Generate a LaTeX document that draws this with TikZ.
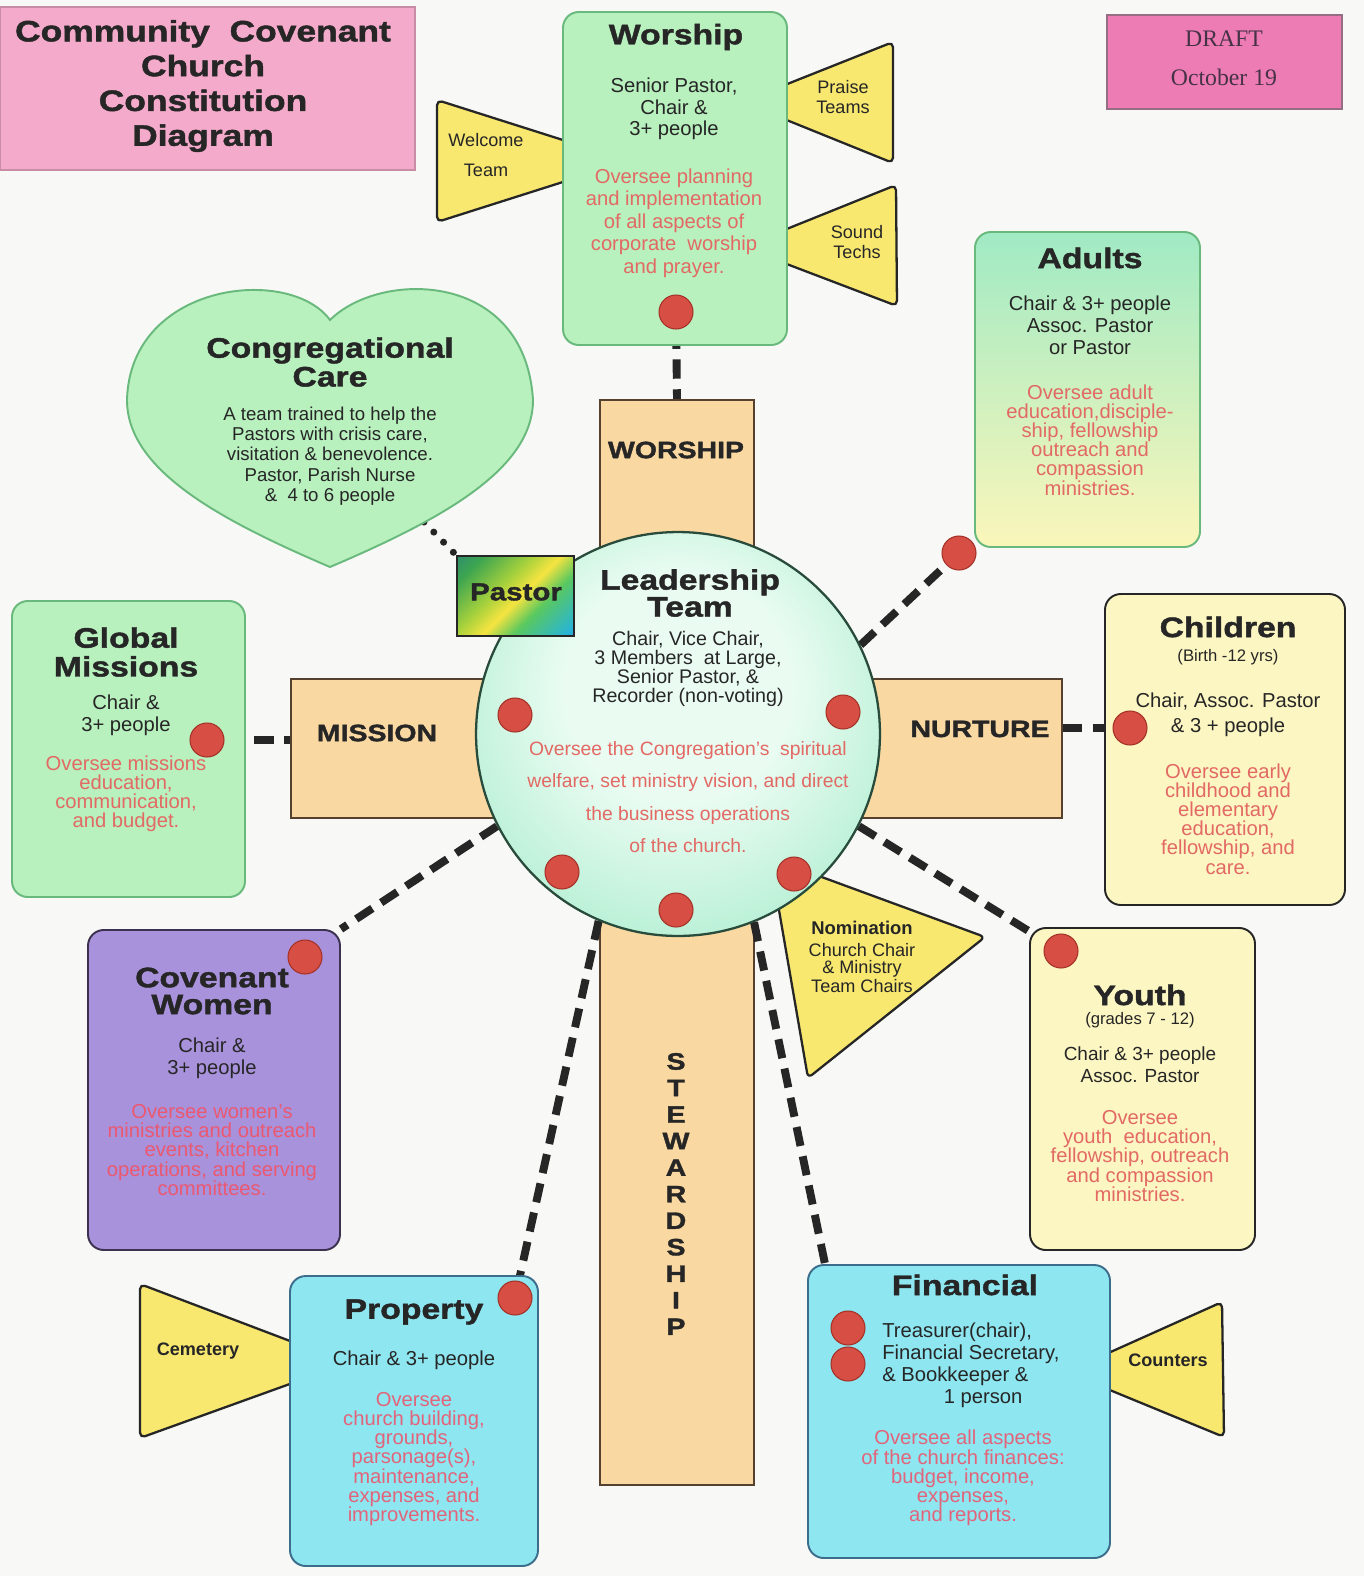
\documentclass[tikz,border=0pt]{standalone}
\usepackage{fontspec}
\setmainfont{Liberation Sans}
\newfontfamily\heavy{Liberation Sans}[FakeStretch=1.2,BoldFeatures={FakeBold=1.5}]
\newfontfamily\draftfont{Liberation Serif}
\usetikzlibrary{fit,calc}
\newcommand\setfs[2]{\fontsize{#1}{#2}\selectfont}

\definecolor{pagebg}{RGB}{248,248,246}
\definecolor{ink}{RGB}{38,38,38}
\definecolor{titlepink}{RGB}{244,170,202}
\definecolor{titleline}{RGB}{200,140,165}
\definecolor{draftpink}{RGB}{238,124,180}
\definecolor{draftline}{RGB}{150,110,130}
\definecolor{draftink}{RGB}{70,50,70}
\definecolor{mint}{RGB}{184,240,190}
\definecolor{mintline}{RGB}{105,185,125}
\definecolor{adulttop}{RGB}{160,234,196}
\definecolor{adultbot}{RGB}{251,246,186}
\definecolor{lemon}{RGB}{252,246,194}
\definecolor{triyellow}{RGB}{248,232,112}
\definecolor{tan}{RGB}{250,216,162}
\definecolor{barline}{RGB}{85,65,45}
\definecolor{lilac}{RGB}{168,146,220}
\definecolor{lilacline}{RGB}{60,50,80}
\definecolor{aqua}{RGB}{142,230,240}
\definecolor{aqualine}{RGB}{60,110,140}
\definecolor{dotred}{RGB}{214,78,68}
\definecolor{dotline}{RGB}{165,50,40}
\definecolor{tasktext}{RGB}{226,105,100}
\definecolor{womentask}{RGB}{235,88,112}
\definecolor{proptask}{RGB}{226,100,122}
\definecolor{leadline}{RGB}{40,75,60}
\definecolor{leadinner}{RGB}{234,252,242}
\definecolor{leadouter}{RGB}{118,224,176}
\definecolor{rbA}{RGB}{30,110,150}
\definecolor{rbB}{RGB}{60,165,80}
\definecolor{rbC}{RGB}{170,210,60}
\definecolor{rbD}{RGB}{246,228,64}
\definecolor{rbE}{RGB}{90,200,95}
\definecolor{rbF}{RGB}{40,180,215}
\definecolor{rbG}{RGB}{85,70,190}

\pgfdeclarehorizontalshading{rainbow}{100bp}{color(0bp)=(rbA); color(24bp)=(rbB); color(42bp)=(rbC); color(52bp)=(rbD); color(63bp)=(rbE); color(82bp)=(rbF); color(100bp)=(rbG)}
\pgfdeclareradialshading{leadglow}{\pgfpoint{0bp}{8bp}}{color(0bp)=(leadinner); color(14bp)=(leadinner); color(50bp)=(leadouter)}

\pgfdeclarelayer{bglayer}
\pgfdeclarelayer{links}
\pgfsetlayers{bglayer,links,main}

\tikzset{
  box/.style={line width=1.1pt, rounded corners=9pt, inner sep=0pt},
  bar/.style={fill=tan, draw=barline, line width=1.2pt, inner sep=0pt},
  tri/.style={fill=triyellow, draw=ink, line width=1.3pt, rounded corners=3pt, line join=round},
  bighead/.style={font=\heavy\bfseries\setfs{16.8}{19.8}, text=ink, align=center, inner sep=0pt},
  head/.style={font=\heavy\bfseries\setfs{16}{16.4}, text=ink, align=center, inner sep=0pt},
  crosshead/.style={font=\heavy\bfseries\setfs{13.5}{15.1}, text=ink, align=center, inner sep=0pt},
  who/.style={font=\setfs{11.5}{12.2}, text=ink, align=center, inner sep=0pt},
  task/.style={font=\setfs{11.5}{10.9}, text=tasktext, align=center, inner sep=0pt},
  tritext/.style={font=\setfs{10.3}{11.5}, text=ink, align=center, inner sep=0pt},
  reddot/.style={circle, fill=dotred, draw=dotline, line width=0.6pt, minimum size=0.68cm, inner sep=0pt},
  link/.style={draw=ink, line width=4.5pt, dash pattern=on 11pt off 6pt},
  dotlink/.style={draw=ink, line width=4pt, line cap=round, dash pattern=on 0pt off 8pt}
}

\begin{document}
\begin{tikzpicture}[x=0.02cm, y=-0.02cm]
\useasboundingbox (0,0) rectangle (1364,1576);

\begin{pgfonlayer}{bglayer}
  \fill[pagebg] (0,0) rectangle (1364,1576);
  % the cross
  \node[bar, fit={(600,400) (754,1485)}] (vbar) {};
  \node[bar, fit={(291,679) (1062,818)}] (hbar) {};
\end{pgfonlayer}

\node[crosshead] (worshipL) at (676,450) {WORSHIP};
\node[crosshead] (missionL) at (377,733) {MISSION};
\node[crosshead] (nurtureL) at (980,729) {NURTURE};
\node[crosshead] (stewardL) at (676,1194) {S\\T\\E\\W\\A\\R\\D\\S\\H\\I\\P};

% title and date
\node[fill=titlepink, draw=titleline, line width=0.8pt, inner sep=0pt, fit={(0,7) (415,170)}] (titlebox) {};
\node[bighead] (titletext) at (203,86) {Community~~Covenant\\Church\\Constitution\\Diagram};
\node[fill=draftpink, draw=draftline, line width=0.8pt, inner sep=0pt, fit={(1107,15) (1342,109)}] (draftbox) {};
\node[font=\draftfont\setfs{13.5}{22}, text=draftink, align=center, inner sep=0pt] (drafttext) at (1224,58) {DRAFT\\October 19};

% worship
\draw[tri] (437,100) -- (629,161) -- (437,222) -- cycle;
\draw[tri] (893,42) -- (742,102) -- (893,163) -- cycle;
\draw[tri] (896,185) -- (742,247) -- (897,306) -- cycle;
\node[tritext, font=\setfs{10.3}{17}] (welcome) at (486,155) {Welcome\\Team};
\node[tritext] (praise) at (843,97) {Praise\\Teams};
\node[tritext] (sound) at (857,242) {Sound\\Techs};
\node[box, fill=mint, draw=mintline, fit={(563,12) (787,345)}] (worship) {};
\node[head] (worshipT) at (676,37) {Worship};
\node[who] (worshipW) at (674,109) {Senior Pastor,\\Chair \&\\3+ people};
\node[task, font=\setfs{11.5}{12.8}] (worshipJ) at (674,223) {Oversee planning\\and implementation\\of all aspects of\\corporate~~worship\\and prayer.};
\node[reddot] (wdot) at (676,312) {};

% congregational care
\draw[fill=mint, draw=mintline, line width=1.1pt] (330,320) .. controls (380,270) and (525,270) .. (533,400)
  .. controls (533,470) and (440,520) .. (330,567) .. controls (220,520) and (127,470) .. (127,400)
  .. controls (130,282) and (290,265) .. (330,320) -- cycle;
\node[head] (careT) at (330,362) {Congregational\\Care};
\node[who, font=\setfs{10.6}{11.5}] (careW) at (330,456) {A team trained to help the\\Pastors with crisis care,\\visitation \& benevolence.\\Pastor, Parish Nurse\\\&~~4 to 6 people};
\coordinate (careEnd) at (424,522);

% adults
\node[box, top color=adulttop, bottom color=adultbot, draw=mintline, fit={(975,232) (1200,547)}] (adults) {};
\node[head] (adultsT) at (1090,258) {Adults};
\node[who, font=\setfs{11.5}{12.5}] (adultsW) at (1090,325) {Chair \& 3+ people\\Assoc. Pastor\\or Pastor};
\node[task] (adultsJ) at (1090,440) {Oversee adult\\education,disciple-\\ship, fellowship\\outreach and\\compassion\\ministries.};
\node[reddot] (adot) at (959,553) {};

% global missions
\node[box, fill=mint, draw=mintline, fit={(12,601) (245,897)}] (global) {};
\node[head] (globalT) at (126,652) {Global\\Missions};
\node[who, font=\setfs{11.5}{12.5}] (globalW) at (126,715) {Chair \&\\3+ people};
\node[task] (globalJ) at (126,794) {Oversee missions\\education,\\communication,\\and budget.};
\node[reddot] (gdot) at (207,740) {};

% children
\node[box, fill=lemon, draw=ink, fit={(1105,594) (1345,905)}] (children) {};
\node[head] (childrenT) at (1228,627) {Children};
\node[who, font=\setfs{9.5}{11}] (childrenA) at (1228,657) {(Birth -12 yrs)};
\node[who, font=\setfs{11.5}{14.2}] (childrenW) at (1228,715) {Chair, Assoc. Pastor\\\& 3 + people};
\node[task] (childrenJ) at (1228,819) {Oversee early\\childhood and\\elementary\\education,\\fellowship, and\\care.};
\node[reddot] (cdot) at (1130,728) {};

% nomination
\draw[tri] (770,858) -- (985,937) -- (808,1078) -- cycle;
\node[font=\bfseries\setfs{10.5}{11}, text=ink, inner sep=0pt] (nomT) at (862,928) {Nomination};
\node[tritext, font=\setfs{10.3}{9.6}] (nomW) at (862,968) {Church Chair\\\& Ministry\\Team Chairs};

% leadership team
\node[circle, minimum size=8.08cm, inner sep=0pt, shading=leadglow, draw=leadline, line width=1.3pt] (lead) at (678,734) {};
\node[head, font=\heavy\bfseries\setfs{16}{14.2}] (leadT) at (690,593) {Leadership\\Team};
\node[who, font=\setfs{11.2}{10.8}] (leadW) at (688,669) {Chair, Vice Chair,\\3 Members~~at Large,\\Senior Pastor, \&\\Recorder (non-voting)};
\node[task, font=\setfs{11}{18.4}] (leadJ) at (688,797) {Oversee the Congregation's~~spiritual\\welfare, set ministry vision, and direct\\the business operations\\of the church.};
\node[reddot] (ldot1) at (515,715) {};
\node[reddot] (ldot2) at (843,712) {};
\node[reddot] (ldot3) at (562,872) {};
\node[reddot] (ldot4) at (676,910) {};
\node[reddot] (ldot5) at (794,874) {};

% pastor
\node[shading=rainbow, shading angle=-45, draw=ink, line width=1.2pt, inner sep=0pt, fit={(457,556) (574,636)}] (pastor) {};
\node[font=\heavy\bfseries\setfs{14}{15}, text=ink, inner sep=0pt] (pastorT) at (516,592) {Pastor};

% youth
\node[box, fill=lemon, draw=ink, fit={(1030,928) (1255,1250)}] (youth) {};
\node[head] (youthT) at (1140,995) {Youth};
\node[who, font=\setfs{9.5}{11}] (youthA) at (1140,1020) {(grades 7 - 12)};
\node[who, font=\setfs{10.8}{12.5}] (youthW) at (1140,1065) {Chair \& 3+ people\\Assoc. Pastor};
\node[task] (youthJ) at (1140,1156) {Oversee\\youth~~education,\\fellowship, outreach\\and compassion\\ministries.};
\node[reddot] (ydot) at (1061,951) {};

% covenant women
\node[box, fill=lilac, draw=lilacline, fit={(88,930) (340,1250)}] (women) {};
\node[head, font=\heavy\bfseries\setfs{16}{15.3}] (womenT) at (212,991) {Covenant\\Women};
\node[who, font=\setfs{11.5}{12.5}] (womenW) at (212,1058) {Chair \&\\3+ people};
\node[task, text=womentask] (womenJ) at (212,1150) {Oversee women's\\ministries and outreach\\events, kitchen\\operations, and serving\\committees.};
\node[reddot] (cwdot) at (305,957) {};

% property
\draw[tri] (140,1284) -- (348,1363) -- (140,1438) -- cycle;
\node[font=\bfseries\setfs{10.3}{11}, text=ink, inner sep=0pt] (cemetery) at (198,1351) {Cemetery};
\node[box, fill=aqua, draw=aqualine, fit={(290,1276) (538,1566)}] (property) {};
\node[head] (propertyT) at (414,1312) {Property};
\node[who] (propertyW) at (414,1360) {Chair \& 3+ people};
\node[task, text=proptask] (propertyJ) at (414,1459) {Oversee\\church building,\\grounds,\\parsonage(s),\\maintenance,\\expenses, and\\improvements.};
\node[reddot] (pdot) at (515,1298) {};

% financial
\draw[tri] (1222,1302) -- (1066,1372) -- (1224,1437) -- cycle;
\node[font=\bfseries\setfs{10.3}{11}, text=ink, inner sep=0pt] (counters) at (1168,1360) {Counters};
\node[box, fill=aqua, draw=aqualine, fit={(808,1265) (1110,1558)}] (financial) {};
\node[head] (financialT) at (965,1285) {Financial};
\node[who, align=left, anchor=west, font=\setfs{11.5}{12.5}] (financialW) at (882,1365) {Treasurer(chair),\\Financial Secretary,\\\& Bookkeeper \&\\\hspace{35pt}1 person};
\node[task, text=proptask] (financialJ) at (963,1478) {Oversee all aspects\\of the church finances:\\budget, income,\\expenses,\\and reports.};
\node[reddot] (fdot1) at (848,1328) {};
\node[reddot] (fdot2) at (848,1364) {};

% connectors
\begin{pgfonlayer}{links}
  \draw[link] (wdot) -- (vbar.north);
  \draw[link] (lead.26) -- (adot);
  \draw[link] (gdot) -- (gdot -| hbar.west);
  \draw[link] (hbar.east |- cdot) -- (cdot);
  \draw[link] (lead.-27) -- (ydot);
  \draw[link] (lead.207) -- (women.north east);
  \draw[link] (lead.247) -- (pdot);
  \draw[link] (lead.-68) -- ($(financial.north west)+(18,0)$);
  \draw[dotlink] (careEnd) -- (pastor.north west);
\end{pgfonlayer}
\end{tikzpicture}
\end{document}
